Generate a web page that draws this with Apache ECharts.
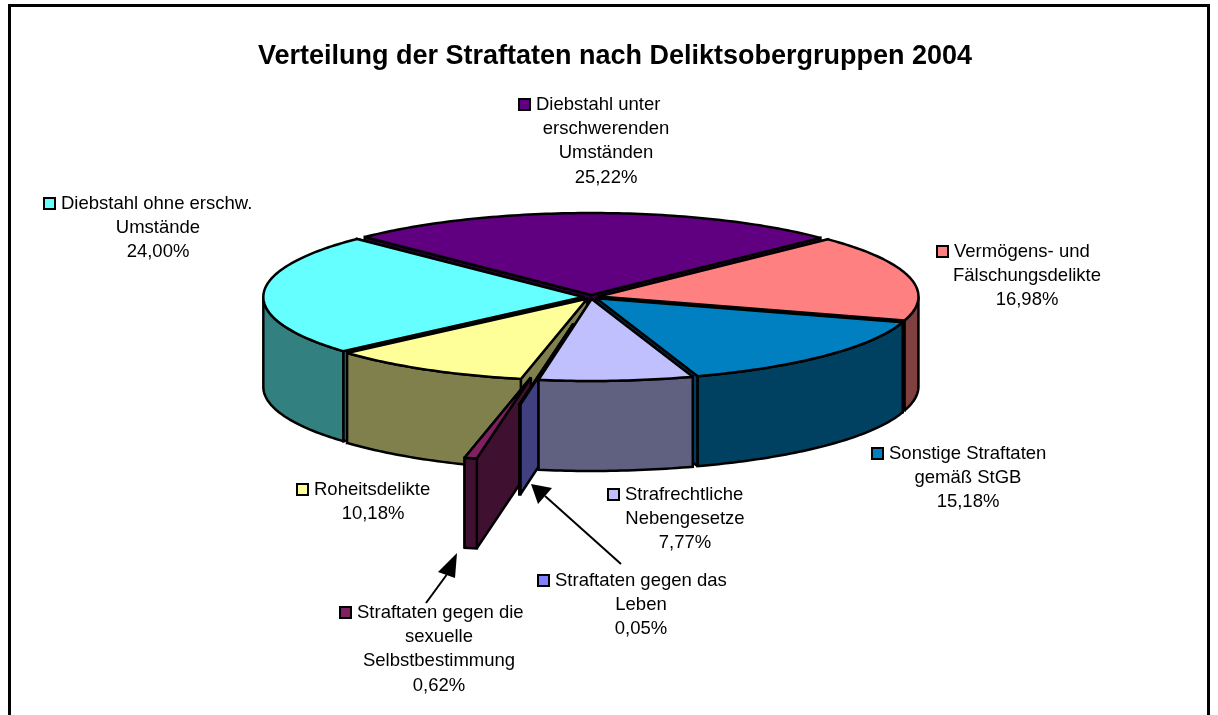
<!DOCTYPE html>
<html>
<head>
<meta charset="utf-8">
<style>
  html, body { margin: 0; padding: 0; background: #fff; }
  #chart { width: 1218px; height: 715px; }
</style>
<script src="https://cdn.jsdelivr.net/npm/echarts@6/dist/echarts.min.js"></script>
</head>
<body>
<div id="chart"></div>
<script>
const titleText = "Verteilung der Straftaten nach Deliktsobergruppen 2004";
const categories = [
  "Diebstahl unter erschwerenden Umständen",
  "Vermögens- und Fälschungsdelikte",
  "Sonstige Straftaten gemäß StGB",
  "Strafrechtliche Nebengesetze",
  "Straftaten gegen das Leben",
  "Straftaten gegen die sexuelle Selbstbestimmung",
  "Roheitsdelikte",
  "Diebstahl ohne erschw. Umstände",
];
const values = [25.22, 16.98, 15.18, 7.77, 0.05, 0.62, 10.18, 24.0];
const topColors = ["#600080", "#FF8080", "#0080C0", "#C0C0FF", "#8080FF", "#802060", "#FFFF99", "#66FFFF"];
const wallColors = ["#300040", "#804040", "#004060", "#606080", "#404080", "#401030", "#80804D", "#338080"];
// how far each slice is pulled out, in radii
const explode = [0.024, 0.024, 0.024, 0.024, 0.33, 1.0, 0.024, 0.024];
// back to front
const drawOrder = [0, 1, 7, 2, 6, 5, 4, 3];

// label layout: wrapped lines, first line left x, centre x of other lines, first row y
const labelLines = [
  ["Diebstahl unter", "erschwerenden", "Umständen"],
  ["Vermögens- und", "Fälschungsdelikte"],
  ["Sonstige Straftaten", "gemäß StGB"],
  ["Strafrechtliche", "Nebengesetze"],
  ["Straftaten gegen das", "Leben"],
  ["Straftaten gegen die", "sexuelle", "Selbstbestimmung"],
  ["Roheitsdelikte"],
  ["Diebstahl ohne erschw.", "Umstände"],
];
const labelLeft = [536, 954, 889, 625, 555, 357, 314, 61];
const labelCenter = [606, 1027, 968, 685, 641, 439, 373, 158];
const labelTop = [105, 252, 454, 495, 581, 613, 490, 204];

const cx = 591, cy = 297, rx = 320, ry = 82, depth = 90, startAngle = -45;

const total = values.reduce((a, b) => a + b, 0);
const startAngles = [];
let acc = startAngle;
values.forEach((v) => {
  startAngles.push(acc);
  acc += (v / total) * 360;
});

function rim(apex, deg, dy) {
  const t = (deg * Math.PI) / 180;
  return [apex[0] + rx * Math.sin(t), apex[1] - ry * Math.cos(t) + (dy || 0)];
}
function arc(apex, a0, a1, dy) {
  const pts = [];
  const n = Math.max(2, Math.ceil(a1 - a0));
  for (let i = 0; i <= n; i++) pts.push(rim(apex, a0 + ((a1 - a0) * i) / n, dy));
  return pts;
}
function poly(points, fill) {
  return {
    type: "polygon",
    shape: { points: points },
    style: { fill: fill, stroke: "#000", lineWidth: 2.5, lineJoin: "miter", miterLimit: 2 },
  };
}

function renderSlice(params, api) {
  const i = api.value(0);
  const a0 = startAngles[i];
  const a1 = a0 + (api.value(1) / total) * 360;
  const mid = ((a0 + a1) / 2) * Math.PI / 180;
  const apex = [cx + explode[i] * rx * Math.sin(mid), cy - explode[i] * ry * Math.cos(mid)];
  const wall = wallColors[i];
  const down = [apex[0], apex[1] + depth];
  const children = [];
  // the cut wall facing the viewer has to go on top of the other one
  (Math.sin(mid) > 0 ? [a0, a1] : [a1, a0]).forEach((a) => {
    children.push(poly([apex, rim(apex, a), rim(apex, a, depth), down], wall));
  });
  const lo = Math.max(a0, 90), hi = Math.min(a1, 270);
  if (hi > lo) {
    children.push(poly(arc(apex, lo, hi).concat(arc(apex, lo, hi, depth).reverse()), wall));
  }
  children.push(poly([apex].concat(arc(apex, a0, a1)), topColors[i]));
  return { type: "group", children: children };
}

const labelFont = { fontFamily: "Liberation Sans", fontSize: 18.5, fill: "#000" };
const graphics = [
  {
    type: "polyline",
    shape: { points: [[9.5, 720], [9.5, 5.5], [1208.5, 5.5], [1208.5, 720]] },
    style: { stroke: "#000", lineWidth: 3, fill: null },
  },
];
categories.forEach((name, i) => {
  const lines = labelLines[i];
  const pct = values[i].toFixed(2).replace(".", ",") + "%";
  const rowH = 24.2;
  graphics.push({
    type: "rect",
    shape: { x: labelLeft[i] - 17, y: labelTop[i] - 6, width: 11, height: 11 },
    style: { fill: topColors[i], stroke: "#000", lineWidth: 2 },
  });
  graphics.push({
    type: "text",
    x: labelLeft[i],
    y: labelTop[i],
    style: Object.assign({ text: lines[0], align: "left", verticalAlign: "middle" }, labelFont),
  });
  lines.slice(1).concat(pct).forEach((line, k) => {
    graphics.push({
      type: "text",
      x: labelCenter[i],
      y: labelTop[i] + rowH * (k + 1),
      style: Object.assign({ text: line, align: "center", verticalAlign: "middle" }, labelFont),
    });
  });
});

// the two leader arrows
function arrow(from, tip, b1, b2) {
  graphics.push({
    type: "line",
    shape: { x1: from[0], y1: from[1], x2: (b1[0] + b2[0]) / 2, y2: (b1[1] + b2[1]) / 2 },
    style: { stroke: "#000", lineWidth: 2 },
  });
  graphics.push({ type: "polygon", shape: { points: [tip, b1, b2] }, style: { fill: "#000" } });
}
arrow([621, 564], [531, 484], [538, 504], [552, 488]);
arrow([426, 603], [457, 553], [438, 572], [455, 578]);

const chart = echarts.init(document.getElementById("chart"), null, { renderer: "canvas" });
chart.setOption({
  backgroundColor: "#fff",
  animation: false,
  title: {
    text: titleText,
    left: 610,
    top: 52,
    textAlign: "center",
    textVerticalAlign: "middle",
    textStyle: { fontFamily: "Liberation Sans", fontSize: 27, fontWeight: "bold", color: "#000" },
  },
  graphic: graphics,
  series: [
    {
      type: "custom",
      coordinateSystem: "none",
      renderItem: renderSlice,
      data: drawOrder.map((i) => ({ name: categories[i], value: [i, values[i]] })),
      z: 1,
    },
  ],
});
</script>
</body>
</html>
